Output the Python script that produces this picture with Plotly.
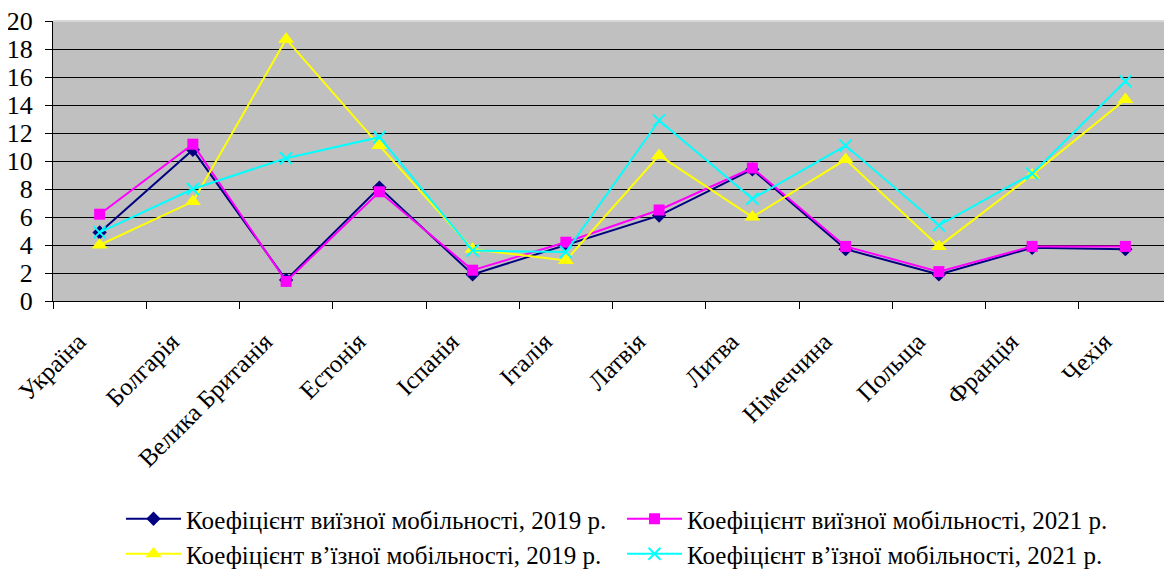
import plotly.graph_objects as go

categories = ["Україна", "Болгарія", "Велика Британія", "Естонія", "Іспанія", "Італія",
              "Латвія", "Литва", "Німеччина", "Польща", "Франція", "Чехія"]

out_2019 = [4.9, 10.8, 1.5, 8.1, 1.9, 4.0, 6.1, 9.4, 3.7, 1.9, 3.8, 3.7]
out_2021 = [6.2, 11.2, 1.4, 7.8, 2.2, 4.2, 6.5, 9.5, 3.9, 2.1, 3.9, 3.9]
in_2019 = [4.0, 7.1, 18.7, 11.1, 3.7, 2.9, 10.4, 6.0, 10.1, 3.9, 9.0, 14.4]
in_2021 = [4.9, 8.0, 10.2, 11.7, 3.6, 3.5, 12.9, 7.3, 11.1, 5.4, 9.1, 15.7]

names = ["Коефіцієнт виїзної мобільності, 2019 р.",
         "Коефіцієнт виїзної мобільності, 2021 р.",
         "Коефіцієнт в’їзної мобільності, 2019 р.",
         "Коефіцієнт в’їзної мобільності, 2021 р."]

y_ticks = list(range(0, 21, 2))

FONT = "Times New Roman, Liberation Serif, DejaVu Serif, serif"

fig = go.Figure()
fig.add_trace(go.Scatter(x=categories, y=out_2019, name=names[0], mode="lines+markers",
                         line=dict(color="#000080", width=2),
                         marker=dict(symbol="diamond", size=11, color="#000080"),
                         legend="legend"))
fig.add_trace(go.Scatter(x=categories, y=out_2021, name=names[1], mode="lines+markers",
                         line=dict(color="#FF00FF", width=2),
                         marker=dict(symbol="square", size=11, color="#FF00FF"),
                         legend="legend2"))
fig.add_trace(go.Scatter(x=categories, y=in_2019, name=names[2], mode="lines+markers",
                         line=dict(color="#FFFF00", width=2),
                         marker=dict(symbol="triangle-up", size=14, color="#FFFF00"),
                         legend="legend3"))
fig.add_trace(go.Scatter(x=categories, y=in_2021, name=names[3], mode="lines+markers",
                         line=dict(color="#00FFFF", width=2),
                         marker=dict(symbol="x-thin", size=12, color="#00FFFF",
                                     line=dict(color="#00FFFF", width=2)),
                         legend="legend4"))

# the page places the figure 8 px from the top-left corner (browser body margin)
OFF = 8
PL, PT, PR, PB = 53, 21, 1172, 301  # wanted plot area, in page pixels
W, H = 1172 - OFF, 578 - 2 * OFF


def leg(px, py):
    return dict(orientation="h", xanchor="left", yanchor="middle",
                x=(px - PL) / (PR - PL), y=(PB - py) / (PB - PT),
                font=dict(family=FONT, size=25, color="black"),
                bgcolor="rgba(0,0,0,0)", itemwidth=55, itemclick=False)


fig.update_layout(
    width=W, height=H,
    margin=dict(l=PL - OFF, r=W - (PR - OFF), t=PT - OFF, b=H - (PB - OFF), pad=0,
                autoexpand=False),
    paper_bgcolor="white",
    plot_bgcolor="#C0C0C0",
    font=dict(family=FONT, size=25, color="black"),
    showlegend=True,
    legend=leg(121, 519),
    legend2=leg(622, 519),
    legend3=leg(121, 554),
    legend4=leg(622, 554),
    xaxis=dict(type="category", range=[-0.5, 11.5], showgrid=False, automargin=False,
               showline=True, linecolor="black", linewidth=1,
               ticks="outside", tickson="boundaries", ticklen=7, tickcolor="black",
               tickangle=-45, ticklabelstandoff=15, ticklabelshift=-21,
               ticklabeloverflow="allow",
               tickfont=dict(family=FONT, size=25, color="black"),
               zeroline=False),
    yaxis=dict(range=[0, 20], tickvals=y_ticks, showgrid=True, gridcolor="black", gridwidth=1,
               automargin=False,
               showline=True, linecolor="black", linewidth=1,
               ticks="outside", ticklen=7, tickcolor="black",
               ticklabelstandoff=7, ticklabeloverflow="allow",
               tickfont=dict(family=FONT, size=26, color="black"),
               zeroline=False),
    shapes=[dict(type="line", xref="paper", yref="paper", x0=0, x1=1, y0=1, y1=1,
                 line=dict(color="#D8D8D8", width=2), layer="above")],
)

fig.write_html("out.html")
